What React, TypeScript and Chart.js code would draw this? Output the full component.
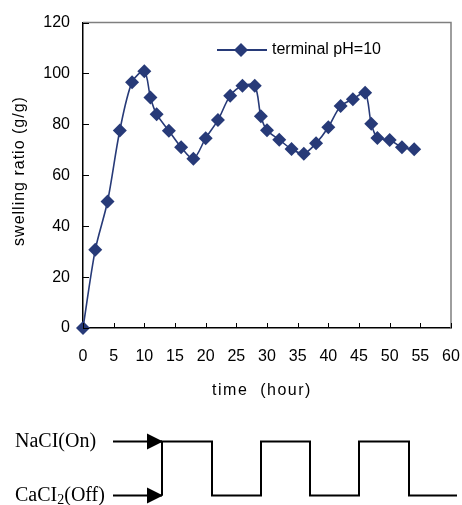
import React, { useEffect, useRef } from "react";
import Chart from "chart.js/auto";

// ---- data ----
const timeHours = [0, 2, 4, 6, 8, 10, 11, 12, 14, 16, 18, 20, 22, 24, 26, 28, 29, 30, 32, 34, 36, 38, 40, 42, 44, 46, 47, 48, 50, 52, 54];
const swellingRatio = [0, 30.7, 49.7, 77.6, 96.6, 100.9, 90.6, 84.0, 77.5, 71.0, 66.5, 74.6, 81.7, 91.3, 95.2, 95.2, 83.2, 77.7, 74.0, 70.3, 68.5, 72.6, 78.9, 87.2, 89.9, 92.4, 80.3, 74.7, 73.9, 71.0, 70.2];
const seriesLabel = "terminal pH=10";
const xAxisTitle = "time  (hour)";
const yAxisTitle = "swelling ratio (g/g)";
const xMin = 0, xMax = 60, xStep = 5;
const yMin = 0, yMax = 120, yStep = 20;
// switching schedule (hours) shown under the chart; starts On (NaCl)
const switchTimes = [12.8, 21, 29, 37, 45, 53.2];
const switchEnd = 61;
const onLabel = "NaCI(On)";
const offLabelMain = "CaCI";
const offLabelSub = "2";
const offLabelTail = "(Off)";

const NAVY = "#273a78";
const SANS = '"Liberation Sans", Arial, sans-serif';
const SERIF = '"Liberation Serif", "Times New Roman", serif';

const extras = {
  id: "extras",
  afterDraw(chart: any) {
    const ctx = chart.ctx as CanvasRenderingContext2D;
    const { left, right, top, bottom } = chart.chartArea;
    const xs = chart.scales.x;
    const ys = chart.scales.y;
    ctx.save();
    // gray frame top/right
    ctx.strokeStyle = "#7f7f7f";
    ctx.lineWidth = 1.5;
    ctx.beginPath();
    ctx.moveTo(left, top);
    ctx.lineTo(right, top);
    ctx.lineTo(right, bottom);
    ctx.stroke();
    // inward tick marks
    ctx.strokeStyle = "#000";
    ctx.lineWidth = 1;
    ctx.beginPath();
    xs.ticks.forEach((t: any) => {
      const px = Math.round(xs.getPixelForValue(t.value)) + 0.5;
      ctx.moveTo(px, bottom);
      ctx.lineTo(px, bottom - 5);
    });
    ys.ticks.forEach((t: any) => {
      const py = Math.round(ys.getPixelForValue(t.value)) + 0.5;
      ctx.moveTo(left, py);
      ctx.lineTo(left + 6, py);
    });
    ctx.stroke();

    // axis titles
    ctx.fillStyle = "#000";
    ctx.font = `16px ${SANS}`;
    (ctx as any).letterSpacing = "1.5px";
    ctx.textAlign = "center";
    ctx.textBaseline = "middle";
    ctx.fillText(xAxisTitle, (left + right) / 2 - 5, 391);
    ctx.save();
    ctx.translate(20, 171);
    ctx.rotate(-Math.PI / 2);
    (ctx as any).letterSpacing = "1px";
    ctx.fillText(yAxisTitle, 0, 0);
    ctx.restore();
    (ctx as any).letterSpacing = "0px";

    // legend
    const ly = 50;
    ctx.strokeStyle = NAVY;
    ctx.lineWidth = 2;
    ctx.beginPath();
    ctx.moveTo(217, ly);
    ctx.lineTo(267, ly);
    ctx.stroke();
    ctx.fillStyle = NAVY;
    ctx.beginPath();
    ctx.moveTo(241, ly - 7);
    ctx.lineTo(248, ly);
    ctx.lineTo(241, ly + 7);
    ctx.lineTo(234, ly);
    ctx.closePath();
    ctx.fill();
    ctx.fillStyle = "#000";
    ctx.textAlign = "left";
    ctx.font = `16px ${SANS}`;
    ctx.fillText(seriesLabel, 272, ly);

    // switching diagram
    const hiY = 441.5, loY = 495.5;
    ctx.font = `20px ${SERIF}`;
    ctx.textBaseline = "middle";
    ctx.fillText(onLabel, 15, hiY);
    let tx = 15;
    ctx.fillText(offLabelMain, tx, loY);
    tx += ctx.measureText(offLabelMain).width;
    ctx.font = `14px ${SERIF}`;
    ctx.fillText(offLabelSub, tx, loY + 5);
    tx += ctx.measureText(offLabelSub).width;
    ctx.font = `20px ${SERIF}`;
    ctx.fillText(offLabelTail, tx, loY);

    ctx.strokeStyle = "#000";
    ctx.lineWidth = 2;
    const x0 = Math.round(xs.getPixelForValue(switchTimes[0]));
    ctx.beginPath();
    ctx.moveTo(113, hiY);
    ctx.lineTo(x0, hiY);
    ctx.moveTo(113, loY);
    ctx.lineTo(x0, loY);
    ctx.stroke();
    // arrowheads
    ctx.fillStyle = "#000";
    [hiY, loY].forEach((yy) => {
      ctx.beginPath();
      ctx.moveTo(x0 - 15, yy - 8);
      ctx.lineTo(x0 + 1, yy);
      ctx.lineTo(x0 - 15, yy + 8);
      ctx.closePath();
      ctx.fill();
    });
    // square wave
    ctx.beginPath();
    ctx.moveTo(x0, loY);
    ctx.lineTo(x0, hiY);
    let level = hiY;
    for (let i = 1; i < switchTimes.length; i++) {
      const px = Math.round(xs.getPixelForValue(switchTimes[i]));
      ctx.lineTo(px, level);
      level = level === hiY ? loY : hiY;
      ctx.lineTo(px, level);
    }
    ctx.lineTo(Math.round(xs.getPixelForValue(switchEnd)), level);
    ctx.stroke();
    ctx.restore();
  },
};

export default function App() {
  const ref = useRef<HTMLCanvasElement | null>(null);
  useEffect(() => {
    if (!ref.current) return;
    const chart = new Chart(ref.current, {
      type: "line",
      data: {
        datasets: [
          {
            label: seriesLabel,
            data: timeHours.map((t, i) => ({ x: t, y: swellingRatio[i] })),
            borderColor: NAVY,
            backgroundColor: NAVY,
            borderWidth: 1.6,
            pointStyle: "rectRot",
            pointRadius: 7,
            pointBorderWidth: 0,
            pointBackgroundColor: NAVY,
            tension: 0.3,
            fill: false,
            clip: false as any,
          },
        ],
      },
      options: {
        animation: false,
        responsive: false,
        maintainAspectRatio: false,
        layout: { padding: { top: 20, right: 11, left: 0, bottom: 0 } },
        plugins: { legend: { display: false }, tooltip: { enabled: false } },
        scales: {
          x: {
            type: "linear",
            min: xMin,
            max: xMax,
            afterFit: (s: any) => { s.height = 177; s.paddingLeft = 0; s.paddingRight = 0; },
            ticks: { stepSize: xStep, color: "#000", font: { family: SANS, size: 16 }, padding: 19, maxRotation: 0, autoSkip: false },
            grid: { display: false, drawTicks: false },
            border: { display: true, color: "#000", width: 1.5 },
          },
          y: {
            min: yMin,
            max: yMax,
            afterFit: (s: any) => { s.width = 83; },
            ticks: { stepSize: yStep, color: "#000", font: { family: SANS, size: 16 }, padding: 13 },
            grid: { display: false, drawTicks: false },
            border: { display: true, color: "#000", width: 1.5 },
          },
        },
      },
      plugins: [extras],
    });
    return () => chart.destroy();
  }, []);
  return (
    <div style={{ position: "fixed", left: 0, top: 0, width: 462, height: 505, background: "#fff" }}>
      <canvas ref={ref} width={462} height={505} style={{ width: 462, height: 505, display: "block" }} />
    </div>
  );
}
